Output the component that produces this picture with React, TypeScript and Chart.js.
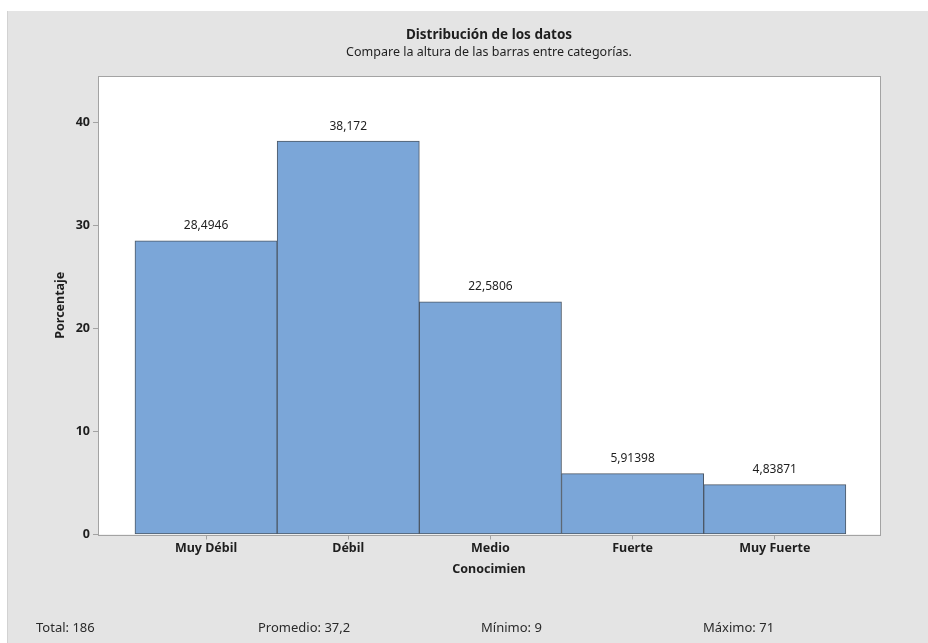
import React, { useEffect, useRef } from "react";
import { Chart, registerables } from "chart.js";

Chart.register(...registerables);

// Percentage of respondents per knowledge level
const categories = ["Muy Débil", "Débil", "Medio", "Fuerte", "Muy Fuerte"];
const percentages = [28.4946, 38.172, 22.5806, 5.91398, 4.83871];
const yTicks = [0, 10, 20, 30, 40];

const statLabels = ["Total", "Promedio", "Mínimo", "Máximo"];
const statValues = ["186", "37,2", "9", "71"];

const titleText = "Distribución de los datos";
const subtitleText = "Compare la altura de las barras entre categorías.";
const xTitle = "Conocimien";
const yTitle = "Porcentaje";

const FONT = "'Segoe UI', 'Noto Sans', 'Open Sans', sans-serif";
const PANEL_BG = "#e4e4e4";
const FRAME = "#a3a3a3";
const TEXT = "#1e1e1e";

const fmt = (v: number) => String(v).replace(".", ",");

const decorPlugin = {
  id: "decor",
  beforeDraw(chart: any) {
    const { ctx, width, height, chartArea: a } = chart;
    ctx.save();
    ctx.fillStyle = PANEL_BG;
    ctx.fillRect(0, 0, width, height);
    ctx.fillStyle = "#d2d2d2";
    ctx.fillRect(0, 0, 1, height);
    ctx.fillStyle = "#ffffff";
    ctx.fillRect(a.left, a.top, a.right - a.left, a.bottom - a.top);
    ctx.restore();
  },
  beforeDatasetsDraw(chart: any) {
    const { ctx, chartArea: a } = chart;
    const l = Math.round(a.left);
    const t = Math.round(a.top);
    const r = Math.round(a.right);
    const b = Math.round(a.bottom);
    ctx.save();
    ctx.strokeStyle = FRAME;
    ctx.lineWidth = 1;
    ctx.strokeRect(l + 0.5, t + 0.5, r - l, b - t);
    ctx.restore();
  },
  afterDatasetsDraw(chart: any) {
    const { ctx } = chart;
    const meta = chart.getDatasetMeta(0);
    ctx.save();
    ctx.fillStyle = TEXT;
    ctx.font = `12px ${FONT}`;
    ctx.textAlign = "center";
    ctx.textBaseline = "middle";
    meta.data.forEach((bar: any, i: number) => {
      ctx.fillText(fmt(percentages[i]), bar.x, bar.y - 15);
    });
    ctx.restore();
  },
  afterDraw(chart: any) {
    const { ctx, chartArea: a } = chart;
    const cx = (a.left + a.right) / 2;
    ctx.save();
    ctx.fillStyle = TEXT;
    ctx.textAlign = "center";
    ctx.textBaseline = "middle";
    ctx.font = `bold 13.5px ${FONT}`;
    ctx.fillText(titleText, cx, 24);
    ctx.font = `12.5px ${FONT}`;
    ctx.fillText(subtitleText, cx, 41.5);

    ctx.textAlign = "left";
    ctx.fillStyle = "#2a2a2a";
    ctx.font = `13px ${FONT}`;
    const xs = [29, 251, 474, 696];
    statLabels.forEach((lab, i) => {
      ctx.fillText(`${lab}: ${statValues[i]}`, xs[i], 617.5);
    });
    ctx.restore();
  },
};

export default function App() {
  const ref = useRef<HTMLCanvasElement | null>(null);

  useEffect(() => {
    if (!ref.current) return;
    const chart = new Chart(ref.current, {
      type: "bar",
      data: {
        datasets: [
          {
            data: percentages.map((v, i) => ({ x: i, y: v })),
            backgroundColor: "#7ba6d8",
            borderColor: "#4c5866",
            borderWidth: 1,
            borderSkipped: false,
            categoryPercentage: 1,
            barPercentage: 1,
          },
        ],
      },
      options: {
        responsive: false,
        animation: false,
        layout: { padding: { top: 65, left: 42, right: 48, bottom: 62.5 } },
        plugins: {
          legend: { display: false },
          tooltip: { enabled: false },
          title: { display: false },
        },
        scales: {
          x: {
            type: "linear",
            offset: false,
            min: -0.76,
            max: 4.74,
            afterBuildTicks: (scale: any) => {
              scale.ticks = categories.map((_, i) => ({ value: i }));
            },
            afterFit: (scale: any) => {
              scale.height = 46;
            },
            ticks: {
              autoSkip: false,
              maxRotation: 0,
              padding: 1,
              color: TEXT,
              font: { family: FONT, size: 12.5, weight: "bold" },
              callback: (v: any) => categories[Math.round(Number(v))] ?? "",
            },
            grid: {
              display: true,
              offset: false,
              drawOnChartArea: false,
              drawTicks: true,
              tickLength: 5,
              color: FRAME,
            },
            border: { display: false },
            title: {
              display: true,
              text: xTitle,
              color: TEXT,
              font: { family: FONT, size: 12.5, weight: "bold" },
              padding: { top: 4, bottom: 4 },
            },
          },
          y: {
            type: "linear",
            min: 0,
            max: 44.5,
            afterBuildTicks: (scale: any) => {
              scale.ticks = yTicks.map((v) => ({ value: v }));
            },
            afterFit: (scale: any) => {
              scale.width = 49;
            },
            ticks: {
              padding: 3,
              color: TEXT,
              font: { family: FONT, size: 12.5, weight: "bold" },
            },
            grid: {
              display: true,
              drawOnChartArea: false,
              drawTicks: true,
              tickLength: 5,
              color: FRAME,
            },
            border: { display: false },
            title: {
              display: true,
              text: yTitle,
              color: TEXT,
              font: { family: FONT, size: 12.5, weight: "bold" },
              padding: { top: 4, bottom: 4 },
            },
          },
        },
      },
      plugins: [decorPlugin],
    });
    return () => chart.destroy();
  }, []);

  return (
    <canvas
      ref={ref}
      width={921}
      height={632}
      style={{ position: "absolute", left: 7, top: 11, display: "block" }}
    />
  );
}
